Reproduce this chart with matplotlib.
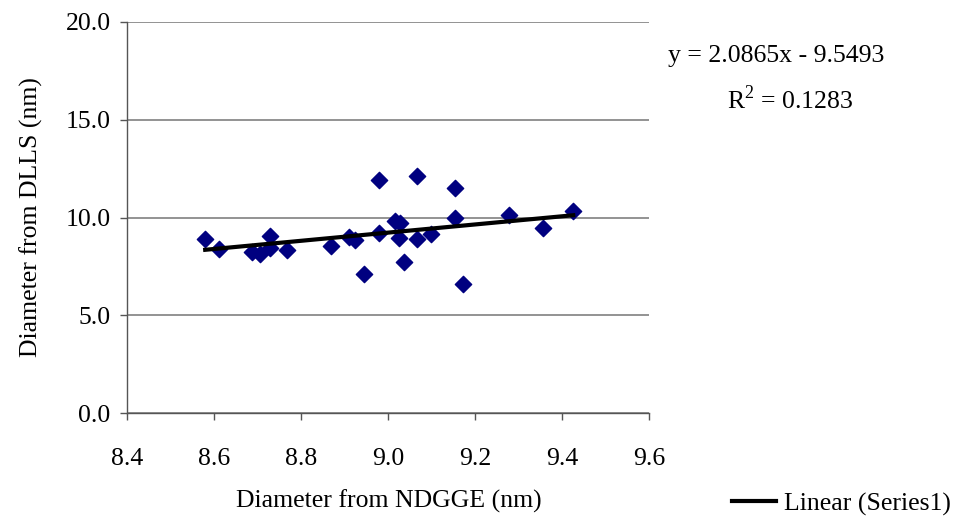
import numpy as np
import matplotlib
matplotlib.use('Agg')
import matplotlib.pyplot as plt
from matplotlib.ticker import FormatStrFormatter

plt.rcParams['font.family'] = ['Liberation Serif', 'DejaVu Serif']

# 데이터
ndgge = [8.579, 8.611, 8.686, 8.705, 8.727, 8.727, 8.768, 8.869, 8.910, 8.924,
         8.943, 8.979, 8.979, 9.016, 9.027, 9.025, 9.035, 9.067, 9.067, 9.099,
         9.154, 9.154, 9.172, 9.278, 9.356, 9.425]
dlls = [8.88, 8.37, 8.25, 8.12, 9.07, 8.44, 8.35, 8.56, 8.98, 8.85,
        7.13, 11.93, 9.19, 9.82, 9.70, 8.95, 7.74, 12.13, 8.88, 9.15,
        11.52, 9.99, 6.62, 10.14, 9.47, 10.31]
slope = 2.0865
intercept = -9.5493
r2 = 0.1283

fs = 18.5

fig = plt.figure(figsize=(9.66, 5.18), dpi=100)
ax = fig.add_axes([0.1318, 0.2021, 0.5404, 0.756])

ax.scatter(ndgge, dlls, marker='D', s=8.3 ** 2, color='#000080', zorder=3)

# 추세선
xs = np.array([min(ndgge), max(ndgge)])
ax.plot(xs, slope * xs + intercept, color='black', lw=3, zorder=4,
        label='Linear (Series1)')

ax.set_xlim(8.4, 9.6)
ax.set_ylim(0, 20)
ax.set_xticks(np.arange(8.4, 9.61, 0.2))
ax.set_yticks(np.arange(0, 20.1, 5))
ax.xaxis.set_major_formatter(FormatStrFormatter('%.1f'))
ax.yaxis.set_major_formatter(FormatStrFormatter('%.1f'))
ax.grid(axis='y', color='#808080', lw=1.2)
ax.set_axisbelow(True)
for s in ['top', 'right']:
    ax.spines[s].set_visible(False)
for s in ['left', 'bottom']:
    ax.spines[s].set_color('#555555')
    ax.spines[s].set_linewidth(1.0)
ax.tick_params(direction='out', length=5, width=1, color='#555555',
               labelsize=fs)
ax.tick_params(axis='x', pad=20)
ax.tick_params(axis='y', pad=7)

ax.set_xlabel('Diameter from NDGGE (nm)', fontsize=fs, labelpad=14)
ax.set_ylabel('Diameter from DLLS (nm)', fontsize=fs, labelpad=16)

fig.text(776 / 966, 1 - 56 / 518, 'y = %.4fx - %.4f' % (slope, -intercept),
         fontsize=fs, ha='center', va='center')
fig.text(790 / 966, 1 - 100 / 518, 'R$^{\\mathregular{2}}$ = %.4f' % r2,
         fontsize=fs, ha='center', va='center')

fig.legend(loc='lower right', bbox_to_anchor=(1.0, -0.025), frameon=False,
           fontsize=fs, handlelength=1.7, handletextpad=0.3,
           borderpad=0.1)

plt.savefig('out.png', dpi=100)
